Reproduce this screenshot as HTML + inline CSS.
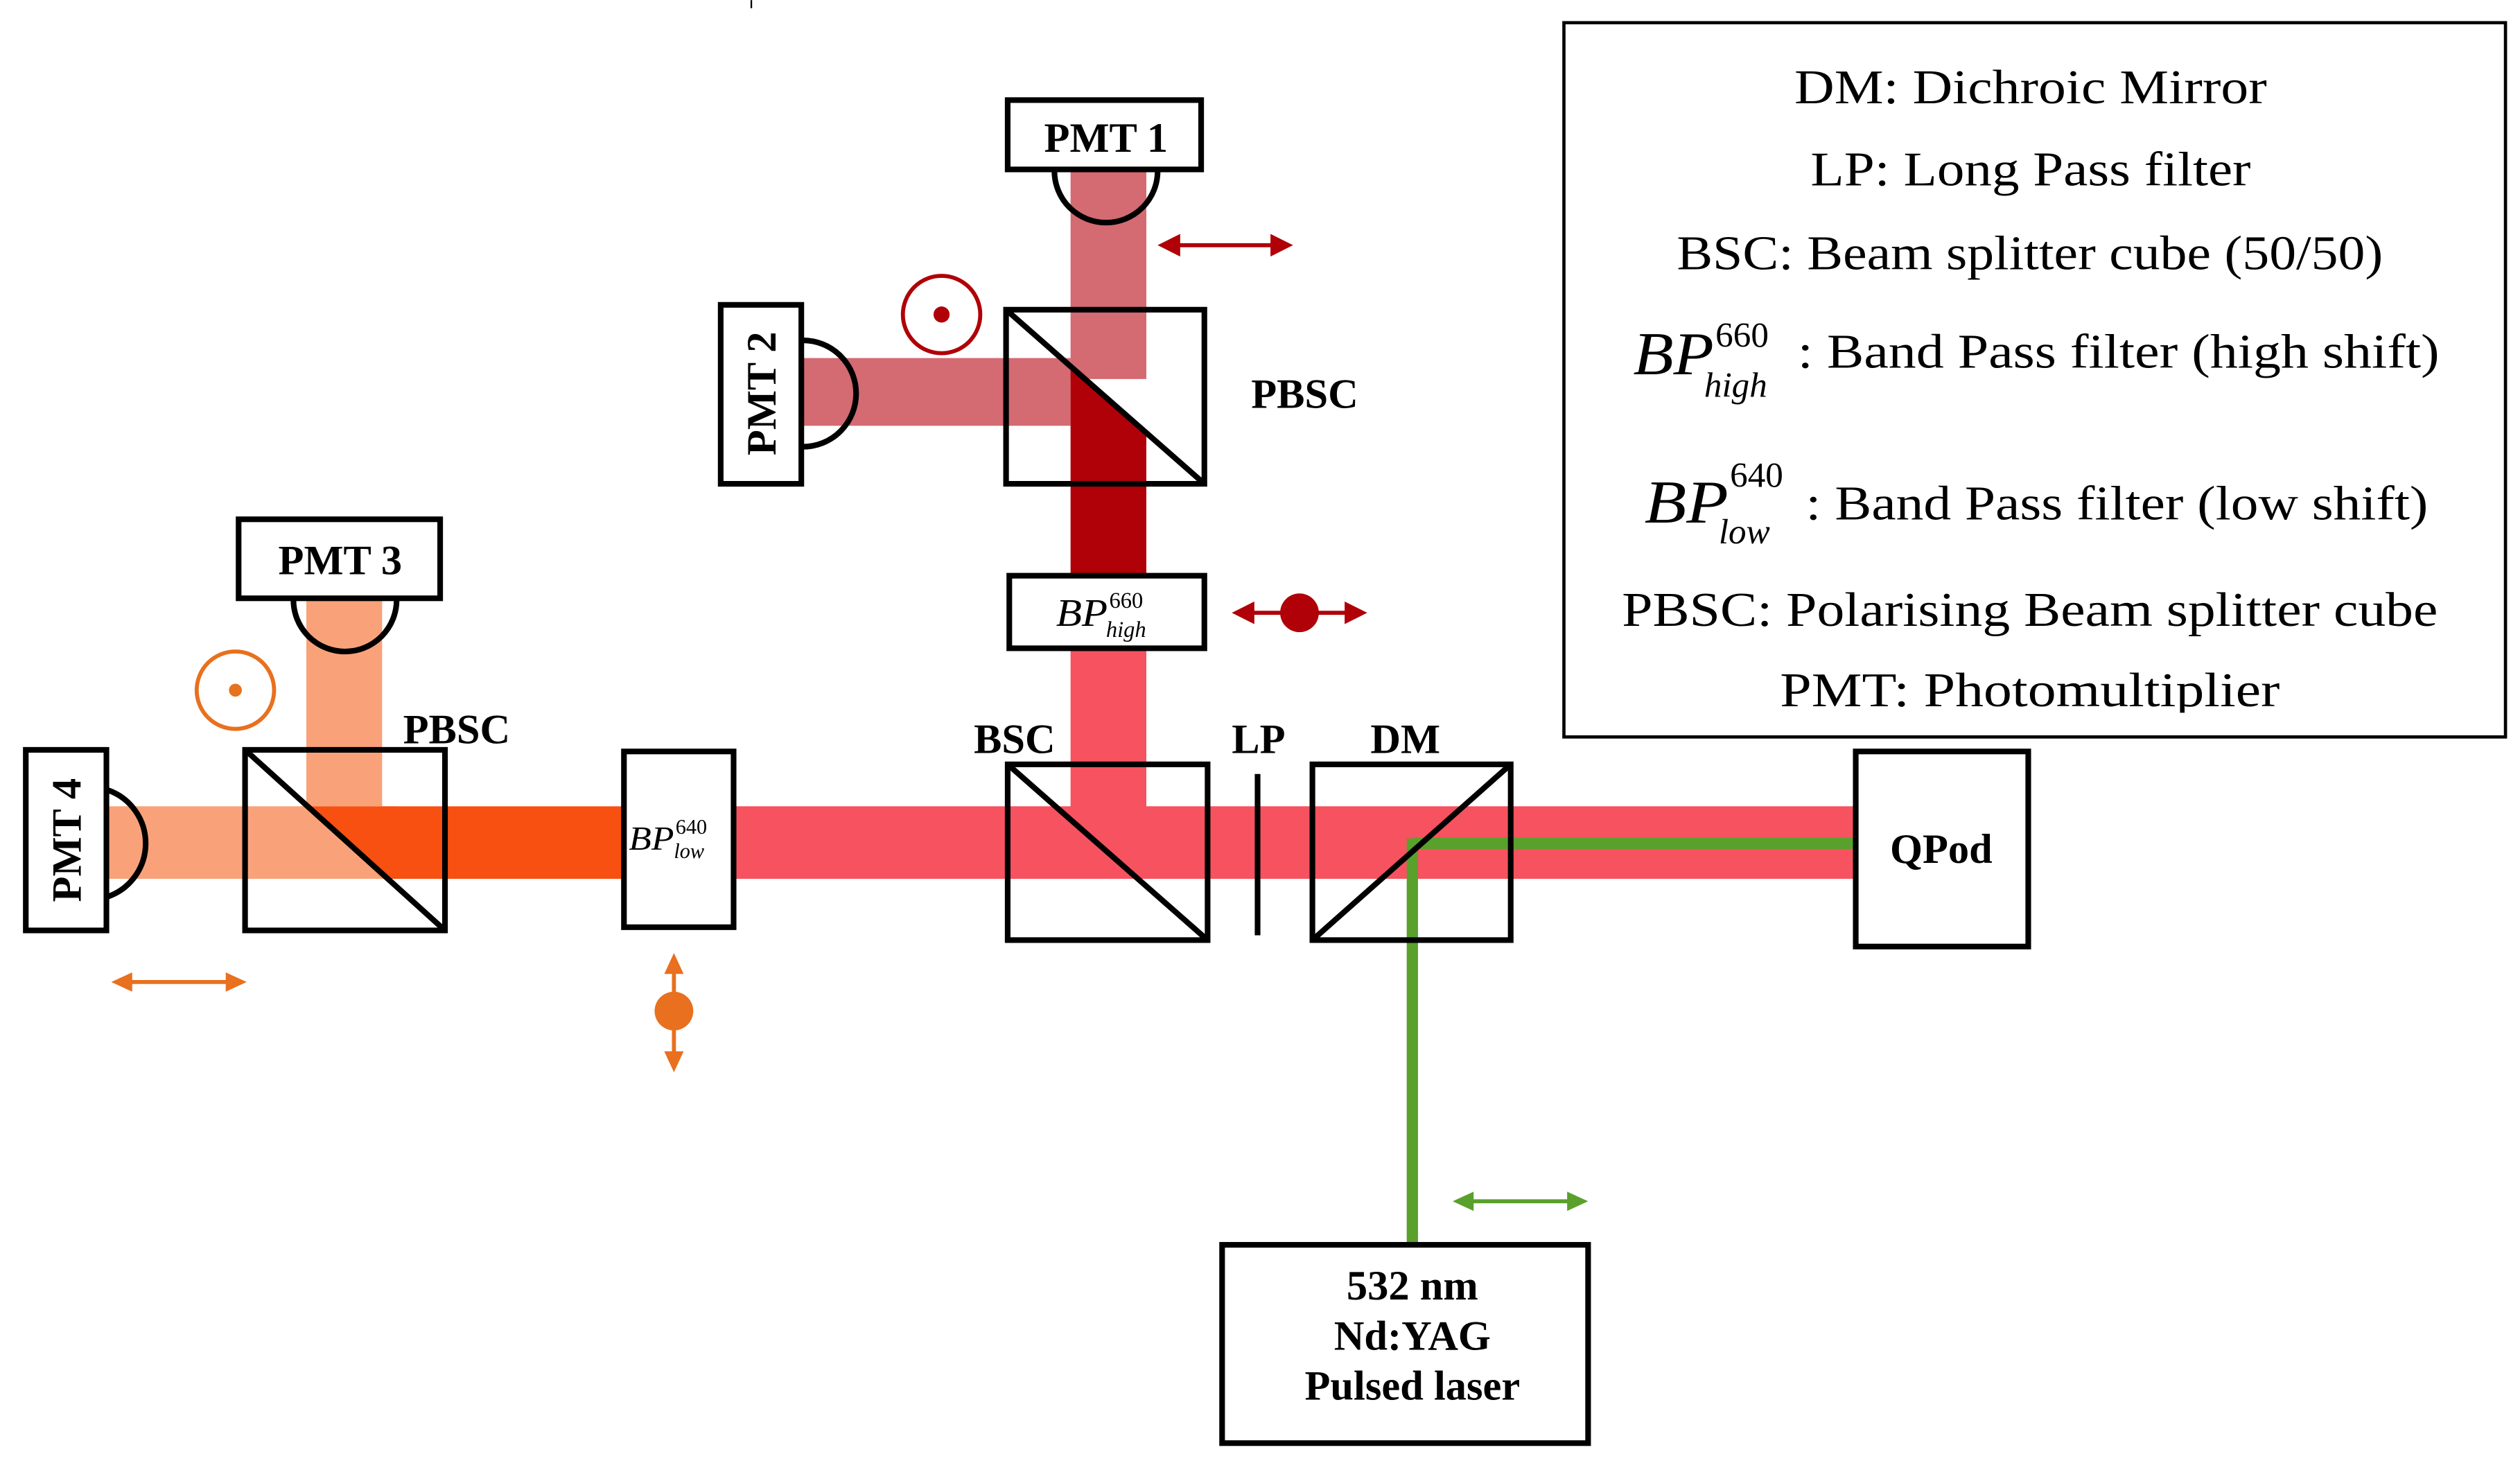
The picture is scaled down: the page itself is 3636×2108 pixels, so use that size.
<!DOCTYPE html>
<html><head><meta charset="utf-8"><style>
html,body{margin:0;padding:0;background:#fff;}
svg{display:block;}
text{font-family:"Liberation Serif",serif;}
.b{font-weight:bold;font-size:26px;}
.lg{font-size:30px;}
</style></head><body>
<svg width="3636" height="2108" viewBox="0 0 1563 906" xmlns="http://www.w3.org/2000/svg">
<defs><clipPath id="lc"><rect x="970" y="14" width="584" height="428"/></clipPath></defs>
<rect x="0" y="0" width="1563" height="906" fill="#fff"/>
<line x1="466" y1="0" x2="466" y2="5" stroke="#000" stroke-width="1"/>

<!-- beams -->
<rect x="664" y="105" width="47" height="130" fill="#d46a72"/>
<rect x="497" y="222" width="167" height="42" fill="#d46a72"/>
<polygon points="664,227 711,268 711,357 664,357" fill="#b00008"/>
<rect x="664" y="402" width="47" height="100" fill="#f7525f"/>
<rect x="455" y="500" width="695" height="45" fill="#f7525f"/>
<rect x="66" y="500" width="180" height="45" fill="#f9a27a"/>
<polygon points="191,500 387,500 387,545 241,545" fill="#f85010"/>
<rect x="190" y="370" width="47" height="130" fill="#f9a27a"/>
<!-- green -->
<line x1="876" y1="523" x2="1150" y2="523" stroke="#5aa02c" stroke-width="7"/>
<line x1="876" y1="520" x2="876" y2="772" stroke="#5aa02c" stroke-width="7"/>

<g fill="none" stroke="#000" stroke-width="3.5">
<rect x="625" y="62" width="120" height="43" fill="#fff"/>
<path d="M654 106 A32 32 0 0 0 718 106" />
<rect x="624" y="192" width="123" height="108"/>
<line x1="624" y1="192" x2="747" y2="300"/>
<rect x="447" y="189" width="50" height="111" fill="#fff"/>
<path d="M498 211 A33 33 0 0 1 498 277"/>
<rect x="626" y="357" width="121" height="45" fill="#fff"/>
<rect x="148" y="322" width="125" height="49" fill="#fff"/>
<path d="M182 372 A32 32 0 0 0 246 372"/>
<rect x="16" y="465" width="50" height="112" fill="#fff"/>
<path d="M67 490 A35 35 0 0 1 67 556"/>
<rect x="152" y="465" width="124" height="112"/>
<line x1="152" y1="465" x2="276" y2="577"/>
<rect x="387" y="466" width="68" height="109" fill="#fff"/>
<rect x="625" y="474" width="124" height="109"/>
<line x1="625" y1="474" x2="749" y2="583"/>
<line x1="780" y1="480" x2="780" y2="580"/>
<rect x="814" y="474" width="123" height="109"/>
<line x1="814" y1="583" x2="937" y2="474"/>
<rect x="1151" y="466" width="107" height="121" fill="#fff"/>
<rect x="758" y="772" width="227" height="123" fill="#fff"/>
<rect x="970" y="14" width="584" height="443" stroke-width="2"/>
</g>

<text class="b" x="686" y="94" text-anchor="middle">PMT 1</text>
<text class="b" transform="translate(481,244) rotate(-90)" text-anchor="middle">PMT 2</text>
<text class="b" x="211" y="356" text-anchor="middle">PMT 3</text>
<text class="b" transform="translate(50,521) rotate(-90)" text-anchor="middle">PMT 4</text>
<text class="b" x="776" y="253">PBSC</text>
<text class="b" x="250" y="461">PBSC</text>
<text class="b" x="604" y="467">BSC</text>
<text class="b" x="764" y="467">LP</text>
<text class="b" x="850" y="467">DM</text>
<text class="b" x="1204" y="535" text-anchor="middle">QPod</text>
<text class="b" x="876" y="806" text-anchor="middle">532 nm</text>
<text class="b" x="876" y="837" text-anchor="middle">Nd:YAG</text>
<text class="b" x="876" y="868" text-anchor="middle">Pulsed laser</text>
<text x="655" y="388" font-size="24" font-style="italic" textLength="32" lengthAdjust="spacingAndGlyphs">BP</text>
<text x="688" y="377" font-size="14">660</text>
<text x="686" y="395" font-size="14" font-style="italic">high</text>
<text x="390" y="527" font-size="21" font-style="italic" textLength="28" lengthAdjust="spacingAndGlyphs">BP</text>
<text x="419" y="517" font-size="13">640</text>
<text x="418" y="532" font-size="13" font-style="italic">low</text>

<g stroke="#b00008" fill="#b00008" stroke-width="2.5">
<line x1="728" y1="152" x2="792" y2="152"/>
<polygon points="718,152 732,145 732,159" stroke="none"/>
<polygon points="802,152 788,145 788,159" stroke="none"/>
<line x1="773" y1="380" x2="839" y2="380"/>
<polygon points="764,380 778,373 778,387" stroke="none"/>
<polygon points="848,380 834,373 834,387" stroke="none"/>
<circle cx="806" cy="380" r="12" stroke="none"/>
<circle cx="584" cy="195" r="24" fill="none"/>
<circle cx="584" cy="195" r="5" stroke="none"/>
</g>
<g stroke="#e8701f" fill="#e8701f" stroke-width="2.5">
<circle cx="146" cy="428" r="24" fill="none"/>
<circle cx="146" cy="428" r="4" stroke="none"/>
<line x1="78" y1="609" x2="144" y2="609"/>
<polygon points="69,609 82,603 82,615" stroke="none"/>
<polygon points="153,609 140,603 140,615" stroke="none"/>
<line x1="418" y1="600" x2="418" y2="656"/>
<polygon points="418,591 412,604 424,604" stroke="none"/>
<polygon points="418,665 412,652 424,652" stroke="none"/>
<circle cx="418" cy="627" r="12" stroke="none"/>
</g>
<g stroke="#5aa02c" fill="#5aa02c" stroke-width="2.5">
<line x1="910" y1="745" x2="976" y2="745"/>
<polygon points="901,745 914,739 914,751" stroke="none"/>
<polygon points="985,745 972,739 972,751" stroke="none"/>
</g>

<g clip-path="url(#lc)" class="lg">
<text x="1113" y="64" font-size="30" textLength="293" lengthAdjust="spacingAndGlyphs">DM: Dichroic Mirror</text>
<text x="1123" y="115" font-size="30" textLength="273" lengthAdjust="spacingAndGlyphs">LP: Long Pass filter</text>
<text x="1040" y="167" font-size="30" textLength="438" lengthAdjust="spacingAndGlyphs">BSC: Beam splitter cube (50/50)</text>
<text x="1013" y="232" font-size="38" font-style="italic" textLength="50" lengthAdjust="spacingAndGlyphs">BP</text>
<text x="1064" y="215" font-size="22">660</text>
<text x="1057" y="246" font-size="22" font-style="italic">high</text>
<text x="1115" y="228" font-size="30" textLength="398" lengthAdjust="spacingAndGlyphs">: Band Pass filter (high shift)</text>
<text x="1020" y="324" font-size="38" font-style="italic" textLength="52" lengthAdjust="spacingAndGlyphs">BP</text>
<text x="1073" y="302" font-size="22">640</text>
<text x="1066" y="337" font-size="22" font-style="italic">low</text>
<text x="1120" y="322" font-size="30" textLength="386" lengthAdjust="spacingAndGlyphs">: Band Pass filter (low shift)</text>
<text x="1006" y="388" font-size="30" textLength="506" lengthAdjust="spacingAndGlyphs">PBSC: Polarising Beam splitter cube</text>
<text x="1104" y="438" font-size="30" textLength="310" lengthAdjust="spacingAndGlyphs">PMT: Photomultiplier</text>
</g>
</svg>
</body></html>
